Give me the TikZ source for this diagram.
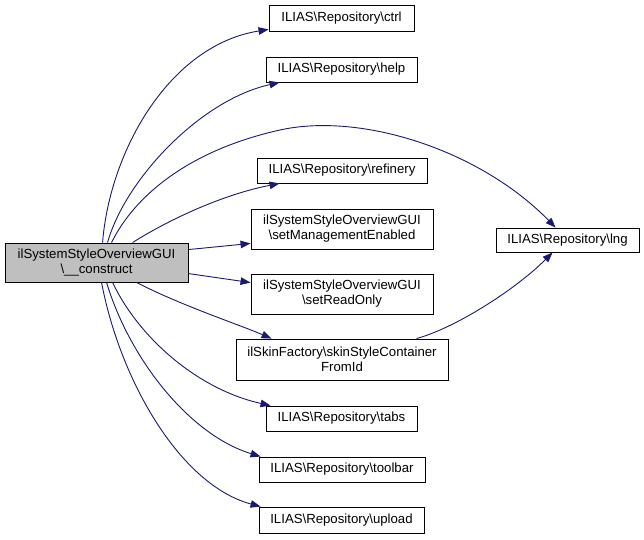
\documentclass[tikz,border=0pt]{standalone}
\usepackage{fontspec}
\setmainfont{Liberation Sans}
\usetikzlibrary{arrows.meta,calc}
\definecolor{edgeblue}{HTML}{191970}
\definecolor{rootfill}{HTML}{BFBFBF}
\begin{document}
\begin{tikzpicture}[x=1pt,y=-1pt,
  box/.style={draw=black,line width=0.9pt,inner sep=0pt,align=center,
    font=\fontsize{13.2}{15}\selectfont},
  rootbox/.style={box,fill=rootfill},
  edge/.style={draw=edgeblue,line width=0.9pt,-{Triangle[length=10pt,width=7.5pt]}}]
\useasboundingbox (0,0) rectangle (644,539);
\node[rootbox,minimum width=183pt,minimum height=39pt] (main) at (96.5,262.5) {ilSystemStyleOverviewGUI\\\textbackslash\_\_construct};
\node[box,minimum width=145pt,minimum height=26pt] (ctrl) at (341.5,18) {ILIAS\textbackslash Repository\textbackslash ctrl};
\node[box,minimum width=151pt,minimum height=25pt] (help) at (341.5,69.5) {ILIAS\textbackslash Repository\textbackslash help};
\node[box,minimum width=170pt,minimum height=25pt] (refinery) at (342,170.5) {ILIAS\textbackslash Repository\textbackslash refinery};
\node[box,minimum width=182pt,minimum height=40pt] (setme) at (342,229) {ilSystemStyleOverviewGUI\\\textbackslash setManagementEnabled};
\node[box,minimum width=182pt,minimum height=40pt] (setro) at (342,294) {ilSystemStyleOverviewGUI\\\textbackslash setReadOnly};
\node[box,minimum width=212pt,minimum height=41pt] (skin) at (342,359.5) {ilSkinFactory\textbackslash skinStyleContainer\\FromId};
\node[box,minimum width=151pt,minimum height=25pt] (tabs) at (341.5,418.5) {ILIAS\textbackslash Repository\textbackslash tabs};
\node[box,minimum width=166pt,minimum height=25pt] (toolbar) at (342,469.5) {ILIAS\textbackslash Repository\textbackslash toolbar};
\node[box,minimum width=165pt,minimum height=26pt] (upload) at (341.5,520) {ILIAS\textbackslash Repository\textbackslash upload};
\node[box,minimum width=143pt,minimum height=24pt] (lng) at (567.5,240) {ILIAS\textbackslash Repository\textbackslash lng};

\draw[edge] ($(main.north west)+(98,0)$) .. controls (110,150) and (170,45) .. ($(ctrl.south west)+(0,-2)$);
\draw[edge] ($(main.north west)+(103,0)$) .. controls (125,180) and (200,100) .. ($(help.south west)+(14,0)$);
\draw[edge] ($(main.north west)+(107,0)$) .. controls (135,195) and (190,150) .. (280,130)
   .. controls (361,112) and (480,150) .. ($(lng.north west)+(60,0)$);
\draw[edge] ($(main.north west)+(128,0)$) .. controls (165,222) and (220,195) .. ($(refinery.south west)+(23,0)$);
\draw[edge] ($(main.north east)+(0,7)$) -- ($(setme.south west)+(0,-6)$);
\draw[edge] ($(main.north east)+(0,31)$) -- ($(setro.north west)+(0,9)$);
\draw[edge] ($(main.south west)+(132,0)$) .. controls (180,305) and (240,325) .. ($(skin.north west)+(36,0)$);
\draw[edge] ($(main.south west)+(108,0)$) .. controls (140,340) and (200,390) .. ($(tabs.north west)+(5,0)$);
\draw[edge] ($(main.south west)+(102,0)$) .. controls (130,360) and (190,435) .. ($(toolbar.north west)+(2,0)$);
\draw[edge] ($(main.south west)+(97,0)$) .. controls (120,380) and (180,485) .. ($(upload.north west)+(2,0)$);
\draw[edge] ($(skin.north west)+(181,0)$) .. controls (455,328) and (515,290) .. ($(lng.south west)+(57,0)$);
\end{tikzpicture}
\end{document}
